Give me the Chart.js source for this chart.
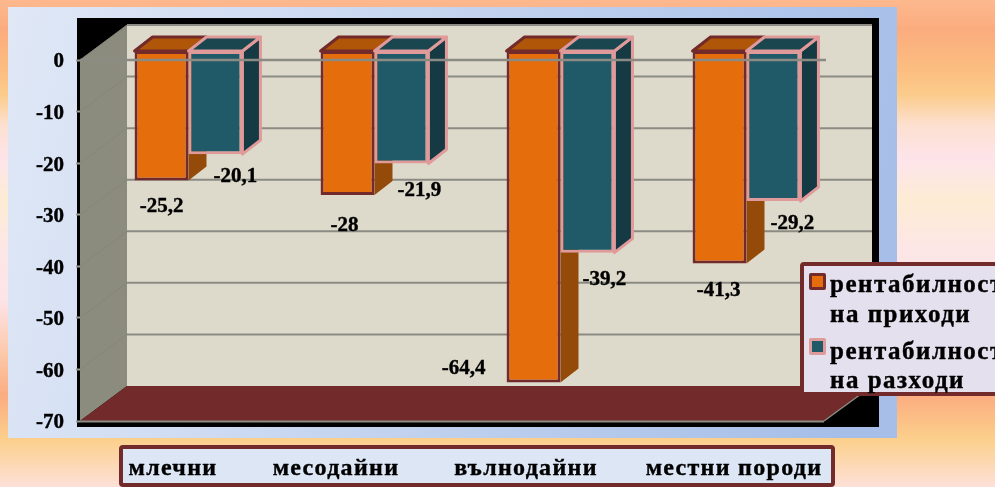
<!DOCTYPE html>
<html lang="bg">
  <head>
    <meta charset="UTF-8" />
    <title>Рентабилност</title>
    <style>
      html, body { margin: 0; padding: 0; width: 995px; height: 487px; overflow: hidden; }
      body {
        background: linear-gradient(to bottom,
          #fdb88e 0px, #fbac7e 30px, #fcbe80 70px, #fccc8c 95px, #fde0d0 125px,
          #fde4ea 160px, #fdecd4 200px, #fde6e6 250px, #fde4e8 300px,
          #fcc8a8 355px, #fbac80 395px, #fcd08c 440px, #fde0d8 487px);
      }
      canvas { display: block; }
    </style>
  </head>
  <body>
    <canvas id="chart" width="995" height="487"></canvas>
    <script src="https://cdn.jsdelivr.net/npm/chart.js@4"></script>
    <script>
      const categories = ['млечни', 'месодайни', 'вълнодайни', 'местни породи'];
      const incomeName = ['рентабилност', 'на приходи'];
      const costName = ['рентабилност', 'на разходи'];
      const incomeValues = [-25.2, -28, -64.4, -41.3];
      const costValues = [-20.1, -21.9, -39.2, -29.2];

      // hand placed, the labels in the picture do not follow any rule
      const incomeLabelNudge = [[0, 26], [-3, 31], [-70, -14], [-1, 27]];
      const costLabelNudge = [[20, 22], [18, 27], [17, 27], [19, 22]];
      const categoryLabelX = [173, 336, 526, 734];

      const SERIF = '"Liberation Serif", serif';
      const barShift = { x: 15.5, y: -9.5 };
      const barDepth = { x: 18, y: 14 };
      const wallDepth = { x: 47, y: 35 };
      const GRID = '#8b8b84';
      const MAROON = '#722a2a';

      function poly(ctx, pts, fill, stroke, lw) {
        ctx.beginPath();
        pts.forEach((p, i) => i ? ctx.lineTo(p[0], p[1]) : ctx.moveTo(p[0], p[1]));
        ctx.closePath();
        ctx.fillStyle = fill;
        ctx.fill();
        if (stroke) {
          ctx.strokeStyle = stroke;
          ctx.lineWidth = lw;
          ctx.lineJoin = 'round';
          ctx.stroke();
        }
      }

      function line(ctx, x1, y1, x2, y2, color, lw) {
        ctx.beginPath();
        ctx.moveTo(x1, y1);
        ctx.lineTo(x2, y2);
        ctx.strokeStyle = color;
        ctx.lineWidth = lw;
        ctx.stroke();
      }

      // fake bold a bit, the reference text is heavy and soft
      function heavyText(ctx, text, x, y) {
        ctx.lineWidth = 0.4;
        ctx.strokeStyle = '#000';
        ctx.strokeText(text, x, y);
        ctx.fillText(text, x, y);
      }

      const room = {
        id: 'room',
        beforeDraw(chart) {
          const { ctx, chartArea: a, scales: { y } } = chart;
          const d = wallDepth;
          const backR = a.right + 48;

          const panel = ctx.createLinearGradient(8, 0, 897, 200);
          panel.addColorStop(0, '#e0e8f6');
          panel.addColorStop(1, '#a6bee8');
          ctx.fillStyle = panel;
          ctx.fillRect(8, 7, 889, 431);

          ctx.fillStyle = '#000';
          ctx.fillRect(a.left - 3, a.top - 42, backR - a.left + 10, a.bottom - a.top + 48);

          poly(ctx, [[a.left + d.x, a.top - d.y], [backR, a.top - d.y], [backR, a.bottom - d.y], [a.left + d.x, a.bottom - d.y]], '#dedacb');
          poly(ctx, [[a.left, a.top], [a.left + d.x, a.top - d.y], [a.left + d.x, a.bottom - d.y], [a.left, a.bottom]], '#8c8c7e');
          poly(ctx, [[a.left, a.bottom], [a.left + d.x, a.bottom - d.y], [backR, a.bottom - d.y], [a.right, a.bottom]], MAROON);

          y.ticks.forEach(t => {
            const py = y.getPixelForValue(t.value);
            if (t.value > y.min) {
              line(ctx, a.left + d.x, py - d.y, backR, py - d.y, GRID, 2);
              line(ctx, a.left, py, a.left + d.x, py - d.y, '#85857a', 1);
            }
          });
          line(ctx, a.left, a.bottom + 0.5, a.right, a.bottom + 0.5, GRID, 2);
          line(ctx, a.right, a.bottom, backR, a.bottom - d.y, GRID, 1.5);
        },
        // own draw loop: orange first, teal over it (Chart.js would paint the left bar last)
        beforeDatasetsDraw(chart) {
          const { ctx, chartArea: a, scales: { y } } = chart;
          const d = barDepth;
          ctx.save();
          ctx.translate(barShift.x, barShift.y);
          chart.data.datasets.forEach((ds, s) => {
            chart.getDatasetMeta(s).data.forEach(bar => {
              const l = bar.x - bar.width / 2;
              const r = bar.x + bar.width / 2;
              const top = Math.min(bar.y, bar.base);
              const bot = Math.max(bar.y, bar.base);
              poly(ctx, [[r, top], [r + d.x, top - d.y], [r + d.x, bot - d.y], [r, bot]], ds.sideColor, ds.faceLine, ds.faceLineWidth);
              poly(ctx, [[l, top], [l + d.x, top - d.y], [r + d.x, top - d.y], [r, top]], ds.topColor, ds.borderColor, 3);
              bar.draw(ctx);
            });
          });
          ctx.restore();
          const zero = y.getPixelForValue(0);
          line(ctx, a.left, zero, a.right + 2, zero, GRID, 2.5);
          return false;
        },
        afterDraw(chart) {
          const { ctx } = chart;
          ctx.save();

          // value labels
          ctx.font = 'bold 21px ' + SERIF;
          ctx.fillStyle = '#000';
          ctx.textAlign = 'center';
          ctx.textBaseline = 'middle';
          [incomeLabelNudge, costLabelNudge].forEach((nudge, s) => {
            const ds = chart.data.datasets[s];
            chart.getDatasetMeta(s).data.forEach((bar, i) => {
              const text = String(ds.data[i]).replace('.', ',');
              heavyText(ctx, text, bar.x + barShift.x + nudge[i][0], bar.y + barShift.y + nudge[i][1]);
            });
          });

          // category box below the chart
          ctx.fillStyle = '#dce6f4';
          ctx.strokeStyle = MAROON;
          ctx.lineWidth = 4;
          ctx.beginPath();
          ctx.roundRect(121, 447, 712, 38, 2);
          ctx.fill();
          ctx.stroke();
          ctx.fillStyle = '#000';
          ctx.font = 'bold 24px ' + SERIF;
          ctx.letterSpacing = '1.3px';
          ctx.textBaseline = 'alphabetic';
          categories.forEach((c, i) => heavyText(ctx, c, categoryLabelX[i], 475));

          // legend, runs off the right edge like the picture
          ctx.fillStyle = '#e4e0ee';
          ctx.strokeStyle = MAROON;
          ctx.lineWidth = 4;
          ctx.beginPath();
          ctx.roundRect(802, 264, 200, 130, 2);
          ctx.fill();
          ctx.stroke();
          const swatch = (y, fill, edge) => {
            ctx.fillStyle = edge;
            ctx.beginPath();
            ctx.roundRect(809, y, 17, 17, 2);
            ctx.fill();
            ctx.fillStyle = fill;
            ctx.fillRect(812, y + 3, 11, 11);
          };
          swatch(273, '#e56d0c', MAROON);
          swatch(338, '#205a68', '#e09a9a');
          ctx.textAlign = 'left';
          ctx.fillStyle = '#000';
          ctx.font = 'bold 25px ' + SERIF;
          ctx.letterSpacing = '1.5px';
          heavyText(ctx, incomeName[0], 830, 292);
          heavyText(ctx, incomeName[1], 830, 322);
          heavyText(ctx, costName[0], 830, 359);
          heavyText(ctx, costName[1], 830, 388);
          ctx.restore();
        }
      };

      new Chart(document.getElementById('chart'), {
        type: 'bar',
        data: {
          labels: categories,
          datasets: [
            {
              label: incomeName.join(' '),
              data: incomeValues,
              backgroundColor: '#e56d0c',
              borderColor: MAROON,
              topColor: '#b05608',
              sideColor: '#944a08',
              faceLine: null,
              faceLineWidth: 0
            },
            {
              label: costName.join(' '),
              data: costValues,
              backgroundColor: '#205a68',
              borderColor: '#e09a9a',
              topColor: '#1a4650',
              sideColor: '#153a44',
              faceLine: '#e09a9a',
              faceLineWidth: 3
            }
          ]
        },
        options: {
          responsive: false,
          animation: false,
          layout: { padding: { left: 0, top: 60, right: 171, bottom: 66 } },
          datasets: {
            bar: {
              categoryPercentage: 0.58,
              barPercentage: 1,
              borderWidth: 3,
              borderSkipped: false
            }
          },
          plugins: { legend: { display: false }, tooltip: { enabled: false } },
          scales: {
            x: { display: false },
            y: {
              min: -70,
              max: 0,
              afterFit: s => { s.width = 80; },
              border: { display: false },
              grid: { drawOnChartArea: false, tickLength: 4, tickColor: '#9a9a94', tickWidth: 2 },
              ticks: {
                stepSize: 10,
                padding: 12,
                labelOffset: 2,
                color: '#000',
                textStrokeColor: '#000',
                textStrokeWidth: 0.4,
                font: { family: SERIF, size: 21, weight: 'bold' },
                callback: v => String(v)
              }
            }
          }
        },
        plugins: [room]
      });
    </script>
  </body>
</html>
